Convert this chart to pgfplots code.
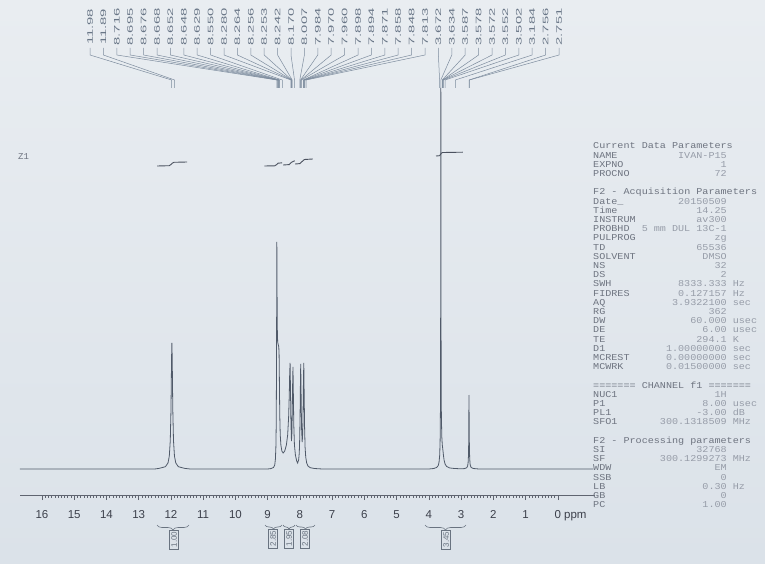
\documentclass[border=0pt]{standalone}
\usepackage{pgfplots}
\pgfplotsset{compat=1.18}
\usepackage{fontspec}
\setmainfont{Liberation Sans}
\newfontfamily\monofont{Liberation Mono}
\usetikzlibrary{decorations.pathreplacing}
\definecolor{bgtop}{RGB}{233,237,241}
\definecolor{bgbot}{RGB}{219,226,233}
\definecolor{speccol}{RGB}{80,90,105}
\definecolor{rulecol}{RGB}{95,100,112}
\definecolor{tickcol}{RGB}{60,64,75}
\definecolor{labcol}{RGB}{105,118,135}
\definecolor{leadcol}{RGB}{125,140,158}
\definecolor{keycol}{RGB}{110,116,128}
\definecolor{valcol}{RGB}{150,156,168}
\definecolor{intcol}{RGB}{75,82,95}
\definecolor{boxcol}{RGB}{105,115,128}
\newcommand\row[3]{\makebox[118.8pt]{#1\hfill\textcolor{valcol}{#2}}\makebox[27pt][l]{\textcolor{valcol}{\ #3}}\par}
\newcommand\hrow[1]{\makebox[145.8pt][l]{#1}\par}
\begin{document}
\begin{tikzpicture}[x=1pt,y=1pt]
\shade[top color=bgtop,bottom color=bgbot] (0,0) rectangle (765,563);
\begin{axis}[
  at={(20pt,68pt)}, anchor=south west,
  scale only axis, width=575pt, height=480pt,
  x dir=reverse, xmin=-1.15, xmax=16.68, ymin=0, ymax=480,
  axis x line*=bottom, axis y line=none,
  xtick={0,...,16}, minor x tick num=9,
  tick align=outside, major tick length=5pt, minor tick length=2.5pt,
  x axis line style={draw=rulecol, line width=0.7pt},
  every tick/.style={draw=rulecol, line width=0.5pt},
  xticklabel style={font=\fontsize{11.5}{12}\selectfont, text=tickcol, yshift=-7pt},
  /pgf/number format/assume math mode=true,
  clip=false,
]
\addplot[speccol, line width=0.8pt, mark=none] coordinates {
(16.68,26) (12.50,26) (12.37,26.6) (12.17,28.3) (12.09,32.1) (12.05,38.9) (12.02,54.4)
(12.00,82.5) (11.99,107) (11.98,137) (11.97,152) (11.96,137) (11.95,107) (11.94,82.5)
(11.92,54.4) (11.89,38.9) (11.85,32.1) (11.77,28.3) (11.57,26.6) (11.40,26)
(9.00,26) (8.90,26.4) (8.82,27.5) (8.78,30) (8.76,36) (8.745,48) (8.735,70) (8.725,130)
(8.716,253) (8.708,200) (8.700,165) (8.690,153) (8.670,150) (8.655,148) (8.645,140)
(8.635,110) (8.625,80) (8.61,60) (8.59,50) (8.56,44) (8.52,42) (8.47,44) (8.42,50)
(8.38,60) (8.35,78) (8.33,100) (8.318,120) (8.305,132) (8.292,105) (8.278,72) (8.262,54)
(8.248,62) (8.235,90) (8.225,112) (8.215,128) (8.203,100) (8.19,70) (8.17,50) (8.14,40)
(8.10,34) (8.07,32) (8.04,35) (8.02,42) (8.005,58) (7.993,85) (7.983,115) (7.975,131)
(7.963,100) (7.950,68) (7.930,53) (7.912,62) (7.900,88) (7.890,115) (7.880,132)
(7.868,100) (7.855,68) (7.84,48) (7.82,38) (7.79,32) (7.75,29) (7.68,27.3) (7.55,26.5)
(7.30,26) (4.00,26) (3.85,26.5) (3.76,27.5) (3.71,29.5) (3.685,33) (3.665,40) (3.652,55)
(3.643,85) (3.637,150) (3.632,300) (3.630,407) (3.627,300) (3.622,150) (3.614,80)
(3.60,58) (3.585,50) (3.57,46) (3.55,40) (3.53,35) (3.50,31) (3.45,28.5) (3.35,27)
(3.20,26.5) (3.00,26.2) (2.90,26.4) (2.83,27.2) (2.80,29) (2.785,32) (2.772,40)
(2.764,58) (2.758,100) (2.752,75) (2.745,48) (2.735,36) (2.72,30) (2.69,27.5)
(2.62,26.5) (2.45,26) (-1.10,26)
};
% integral curves
\addplot[intcol, line width=0.9pt, mark=none] coordinates {
(12.43,329) (12.05,329.3) (12.00,330.5) (11.95,332) (11.90,332.7) (11.50,333)};
\addplot[intcol, line width=0.9pt, mark=none] coordinates {
(9.10,329) (8.78,329.2) (8.72,330.5) (8.68,331.8) (8.55,332.2)};
\addplot[intcol, line width=0.9pt, mark=none] coordinates {
(8.52,330) (8.33,330.4) (8.27,332.5) (8.18,334) (8.16,334.2)};
\addplot[intcol, line width=0.9pt, mark=none] coordinates {
(8.15,331) (8.00,331.4) (7.95,333) (7.86,335.5) (7.60,336)};
\addplot[intcol, line width=0.9pt, mark=none] coordinates {
(3.78,339) (3.67,339.3) (3.64,340.5) (3.61,342) (3.57,342.5) (2.95,342.8)};
\end{axis}
% ppm unit
\node[anchor=base west, font=\fontsize{11.5}{12}\selectfont, text=tickcol, inner sep=0pt] at (564,45) {ppm};
% peak labels and leaders
\foreach \v [count=\i from 0] in {11.98,11.89,8.716,8.695,8.676,8.668,8.652,8.648,8.629,8.550,8.280,8.264,8.256,8.253,8.242,8.170,8.007,7.984,7.970,7.960,7.898,7.894,7.871,7.858,7.848,7.813,3.672,3.634,3.587,3.578,3.572,3.552,3.502,3.184,2.756,2.751} {
  \pgfmathsetmacro\xl{90+13.4*\i}
  \pgfmathsetmacro\xp{558-32.25*\v}
  \node[rotate=90, inner sep=0pt, text=labcol, font=\fontsize{8}{8}\selectfont] at (\xl,536) {\scalebox{1.85}[1]{\v}};
  \draw[leadcol, line width=0.5pt] (\xl,515) -- (\xl,508) -- (\xp,483) -- (\xp,475);
}
% Z1
\node[anchor=west, inner sep=0pt, text=keycol, font=\monofont\fontsize{9}{9}\selectfont] at (18,406) {Z1};
% integral brackets and values
\begin{scope}[boxcol, line width=0.6pt]
\draw[decorate, decoration={brace, mirror, amplitude=5pt}] (157,38) -- (189,38);
\draw[decorate, decoration={brace, mirror, amplitude=4pt}] (265,38) -- (282,38);
\draw[decorate, decoration={brace, mirror, amplitude=4pt}] (283,38) -- (295,38);
\draw[decorate, decoration={brace, mirror, amplitude=4pt}] (296,38) -- (315,38);
\draw[decorate, decoration={brace, mirror, amplitude=5pt}] (425,38) -- (466,38);
\end{scope}
\begin{scope}[every node/.style={rotate=90, anchor=east, draw=boxcol, line width=0.4pt, text=boxcol, inner sep=1.5pt, font=\fontsize{8}{8}\selectfont}]
\node at (174,33) {1.00};
\node at (273,34) {2.85};
\node at (289,34) {1.95};
\node at (305,34) {2.08};
\node at (446,33) {3.45};
\end{scope}
% parameter panel
\node[anchor=base west, inner sep=0pt, text=keycol] at (593,414) {\scalebox{1.124}[1]{\begin{minipage}[t]{145.8pt}\monofont\fontsize{9}{9.2}\selectfont\parindent0pt\parskip0pt\lineskiplimit-20pt
\hrow{Current Data Parameters}
\row{NAME}{IVAN-P15}{}
\row{EXPNO}{1}{}
\row{PROCNO}{72}{}
\mbox{}\par
\hrow{F2 - Acquisition Parameters}
\row{Date\_}{20150509}{}
\row{Time}{14.25}{}
\row{INSTRUM}{av300}{}
\row{PROBHD}{5 mm DUL 13C-1}{}
\row{PULPROG}{zg}{}
\row{TD}{65536}{}
\row{SOLVENT}{DMSO}{}
\row{NS}{32}{}
\row{DS}{2}{}
\row{SWH}{8333.333}{Hz}
\row{FIDRES}{0.127157}{Hz}
\row{AQ}{3.9322100}{sec}
\row{RG}{362}{}
\row{DW}{60.000}{usec}
\row{DE}{6.00}{usec}
\row{TE}{294.1}{K}
\row{D1}{1.00000000}{sec}
\row{MCREST}{0.00000000}{sec}
\row{MCWRK}{0.01500000}{sec}
\mbox{}\par
\hrow{======= CHANNEL f1 =======}
\row{NUC1}{1H}{}
\row{P1}{8.00}{usec}
\row{PL1}{-3.00}{dB}
\row{SFO1}{300.1318509}{MHz}
\mbox{}\par
\hrow{F2 - Processing parameters}
\row{SI}{32768}{}
\row{SF}{300.1299273}{MHz}
\row{WDW}{EM}{}
\row{SSB}{0}{}
\row{LB}{0.30}{Hz}
\row{GB}{0}{}
\row{PC}{1.00}{}
\end{minipage}}};
\end{tikzpicture}
\end{document}
